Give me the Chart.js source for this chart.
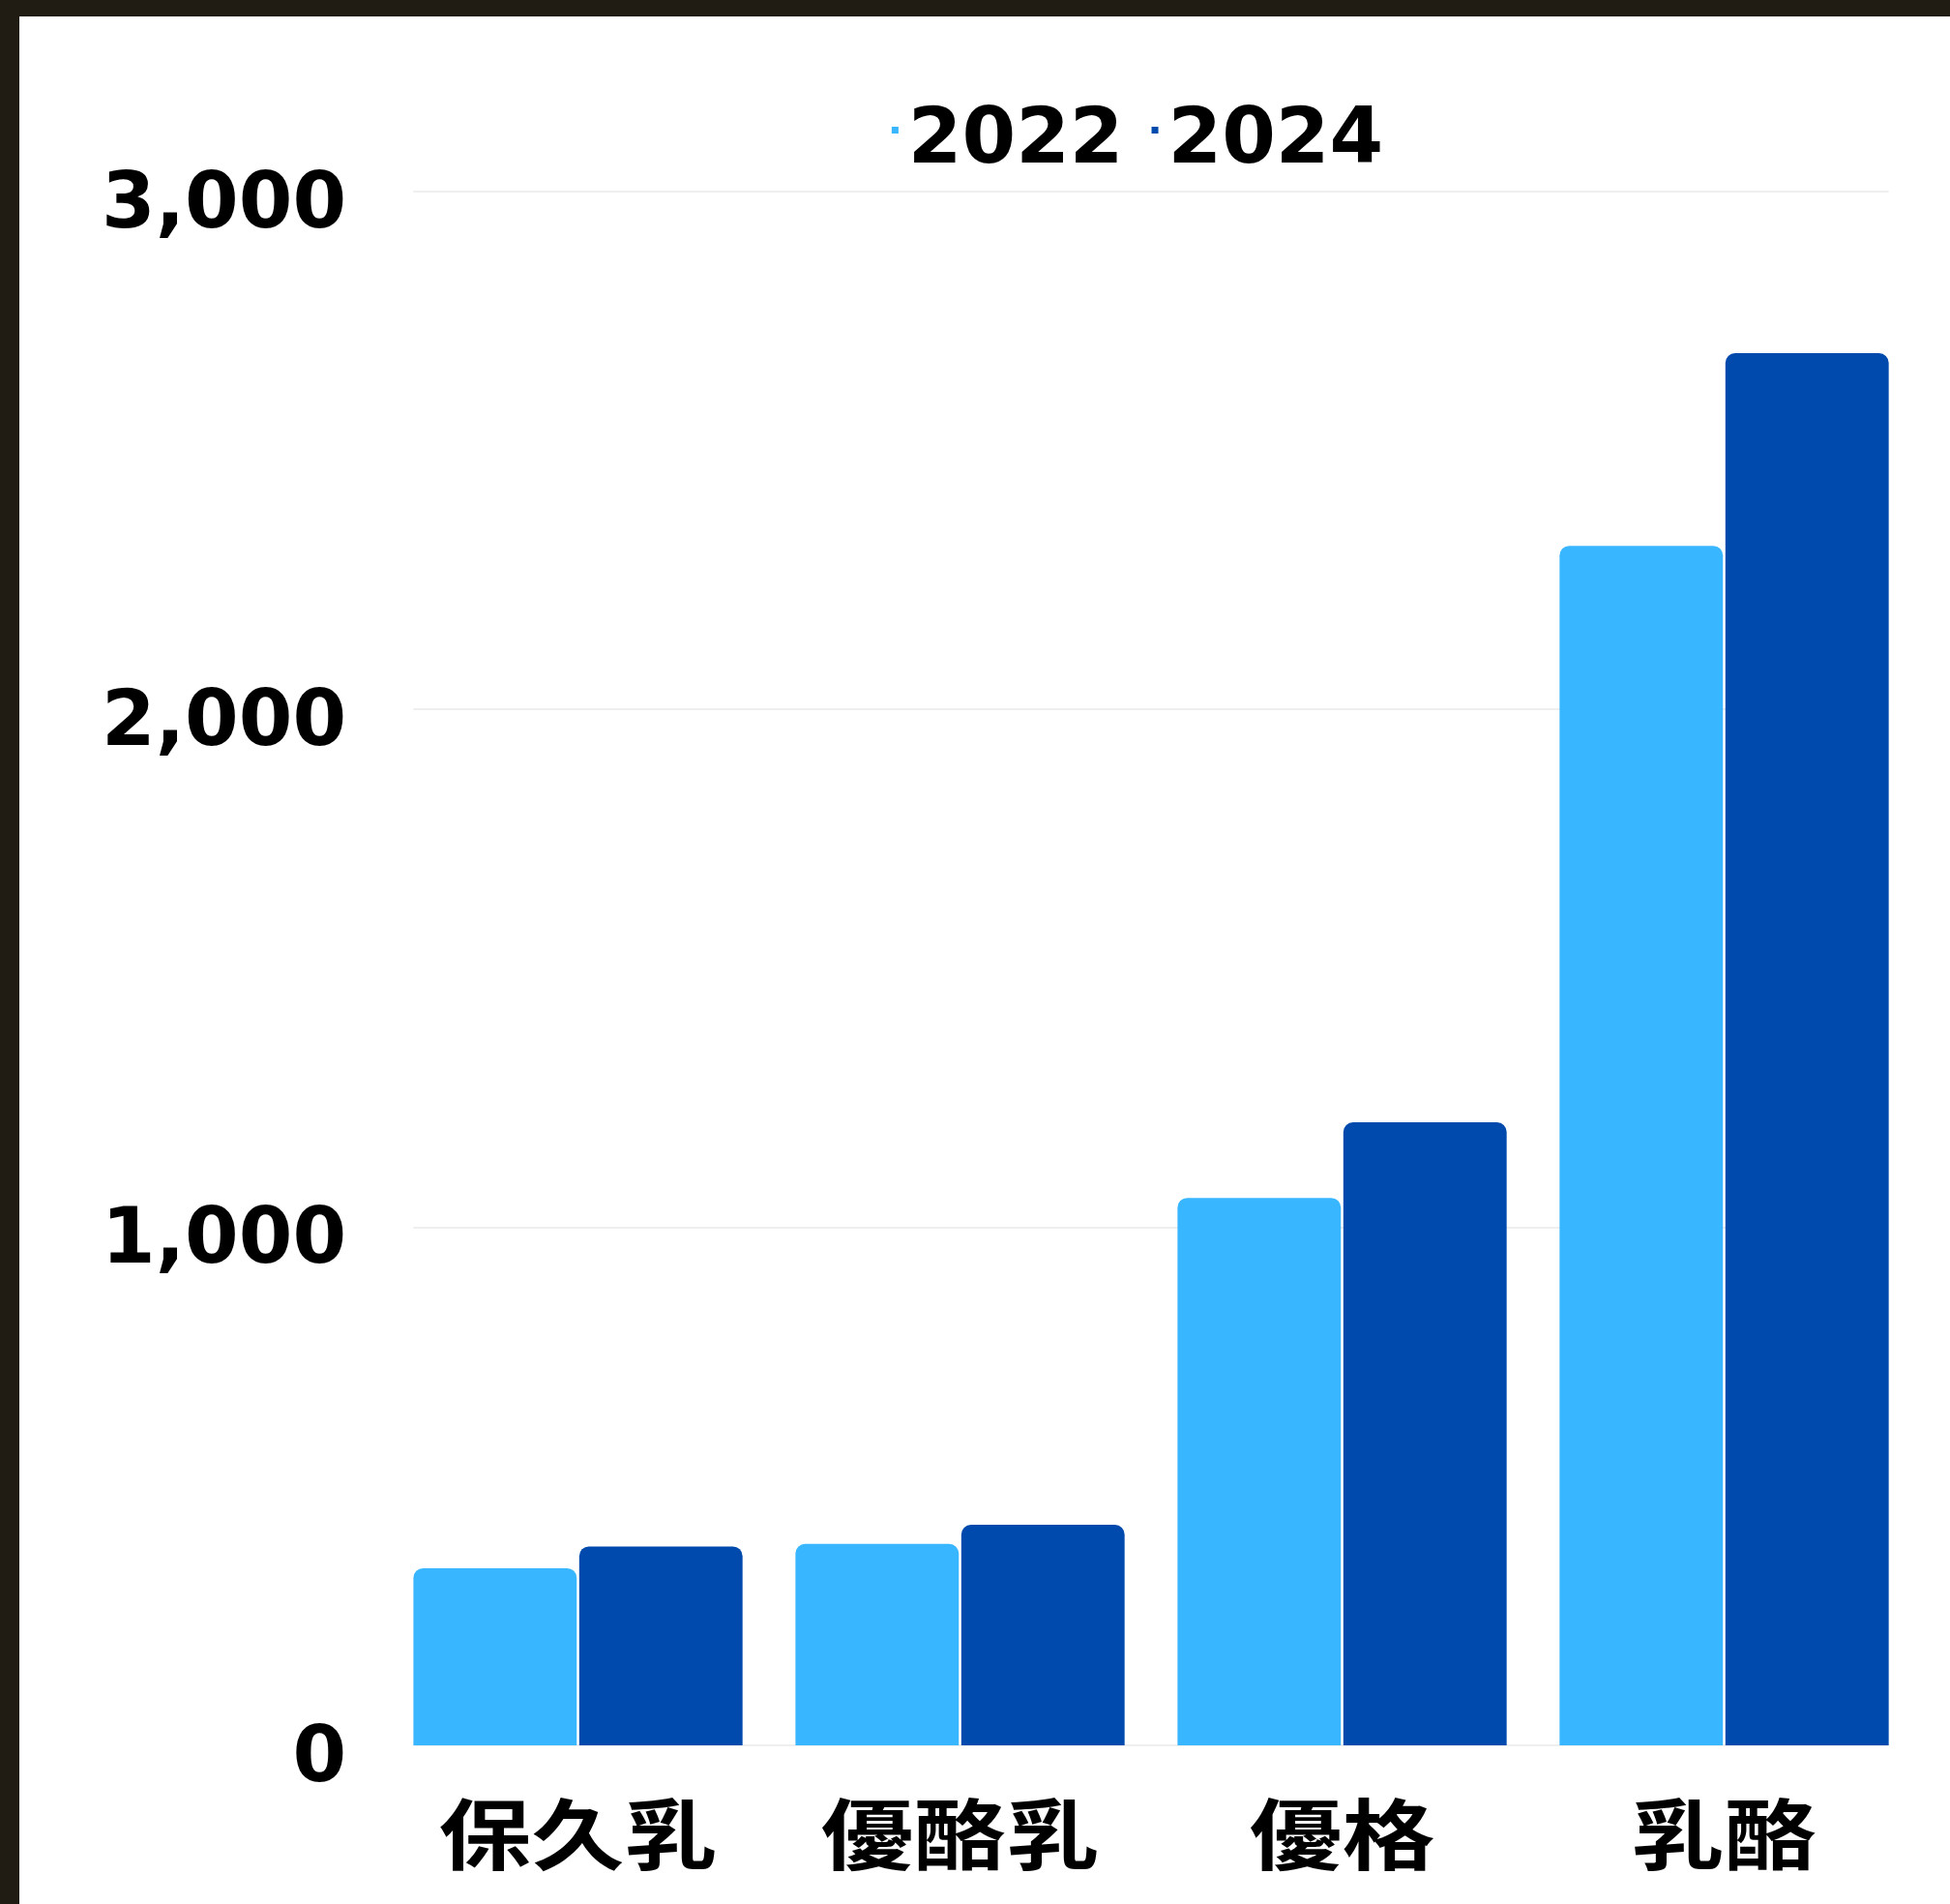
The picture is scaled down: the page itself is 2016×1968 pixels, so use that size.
<!DOCTYPE html>
<html><head><meta charset="utf-8">
<script src="https://cdn.jsdelivr.net/npm/chart.js@4.4.1/dist/chart.umd.min.js"></script>
<style>
html,body{margin:0;padding:0;background:#201c13;width:2016px;height:1968px;overflow:hidden;}
#wrap{position:absolute;left:20px;top:17px;width:1996px;height:1951px;background:#fff;}
canvas{display:block;}
</style></head><body>
<div id="wrap"><canvas id="c" width="1996" height="1951"></canvas></div>
<script>
const categories = ['保久乳', '優酪乳', '優格', '乳酪'];
const seriesLabels = ['2022', '2024'];
const values2022 = [342, 389, 1057, 2316];
const values2024 = [384, 426, 1203, 2688];
const yTicks = [0, 1000, 2000, 3000];
const seriesColors = ['#38B6FF', '#004AAD'];

const X_LABEL_STRETCH = 1.2;

const gridPlugin = {
  id: 'barGrid',
  beforeDatasetsDraw(chart) {
    const metas = chart.getSortedVisibleDatasetMetas();
    if (!metas.length) return;
    const first = metas[0].data[0];
    const lastMeta = metas[metas.length - 1];
    const last = lastMeta.data[lastMeta.data.length - 1];
    const left = first.x - first.width / 2;
    const right = last.x + last.width / 2;
    const ys = chart.scales.y;
    const ctx = chart.ctx;
    ctx.save();
    ctx.strokeStyle = '#efefef';
    ctx.lineWidth = 2;
    ys.ticks.forEach(t => {
      const y = Math.round(ys.getPixelForValue(t.value));
      ctx.beginPath();
      ctx.moveTo(left, y);
      ctx.lineTo(right, y);
      ctx.stroke();
    });
    ctx.restore();
  }
};

const legendPlugin = {
  id: 'dotLegend',
  afterDraw(chart) {
    const ctx = chart.ctx;
    const ca = chart.chartArea;
    const dot = 7, gap = 10, itemGap = 29;
    ctx.save();
    ctx.font = 'bold 80px "DejaVu Sans"';
    ctx.textBaseline = 'alphabetic';
    ctx.textAlign = 'left';
    const items = chart.data.datasets.map(ds => ({
      text: ds.label, color: ds.backgroundColor, w: ctx.measureText(ds.label).width
    }));
    let total = 0;
    items.forEach((it, i) => { total += dot + gap + it.w + (i ? itemGap : 0); });
    let x = (ca.left + ca.right) / 2 - 14 - total / 2;
    items.forEach(it => {
      ctx.fillStyle = it.color;
      ctx.fillRect(x, 114, dot, dot);
      ctx.fillStyle = '#000';
      ctx.fillText(it.text, x + dot + gap, 151);
      x += dot + gap + it.w + itemGap;
    });
    ctx.restore();
  }
};

const stretchPlugin = {
  id: 'xStretch',
  afterLayout(chart) {
    const s = chart.scales.x;
    if (s && !s._stretchPatched) {
      const orig = s.drawLabels.bind(s);
      s.drawLabels = function (area) {
        const c = this.ctx;
        const proto = Object.getPrototypeOf(c).fillText;
        c.fillText = function (t, x, y, mw) {
          this.save();
          this.translate(x, y);
          this.scale(X_LABEL_STRETCH, 1);
          if (mw === undefined) proto.call(this, t, 0, 0); else proto.call(this, t, 0, 0, mw);
          this.restore();
        };
        try { orig(area); } finally { delete c.fillText; }
      };
      s._stretchPatched = true;
    }
  }
};

new Chart(document.getElementById('c'), {
  type: 'bar',
  data: {
    labels: categories,
    datasets: [
      { label: seriesLabels[0], data: values2022, backgroundColor: seriesColors[0] },
      { label: seriesLabels[1], data: values2024, backgroundColor: seriesColors[1] }
    ]
  },
  options: {
    responsive: false,
    animation: false,
    devicePixelRatio: 1,
    datasets: {
      bar: {
        barPercentage: 0.985,
        categoryPercentage: 0.868,
        borderRadius: 10,
        borderSkipped: 'start'
      }
    },
    layout: { padding: { left: 43, right: 36, top: 181, bottom: -20 } },
    plugins: {
      legend: { display: false },
      tooltip: { enabled: false }
    },
    scales: {
      x: {
        grid: { display: false, drawTicks: false },
        border: { display: false },
        ticks: {
          color: '#000',
          padding: 44,
          maxRotation: 0,
          autoSkip: false,
          font: { family: '"Noto Sans CJK TC", "Noto Sans CJK SC", sans-serif', weight: 'bold', size: 80 }
        }
      },
      y: {
        min: 0,
        max: 3000,
        afterBuildTicks: (s) => { s.ticks = yTicks.map(v => ({ value: v })); },
        grid: { display: false, drawTicks: false },
        border: { display: false },
        ticks: {
          color: '#000',
          padding: 42,
          labelOffset: 16,
          font: { family: '"DejaVu Sans"', weight: 'bold', size: 80 }
        }
      }
    }
  },
  plugins: [gridPlugin, legendPlugin, stretchPlugin]
});
</script>
</body></html>
